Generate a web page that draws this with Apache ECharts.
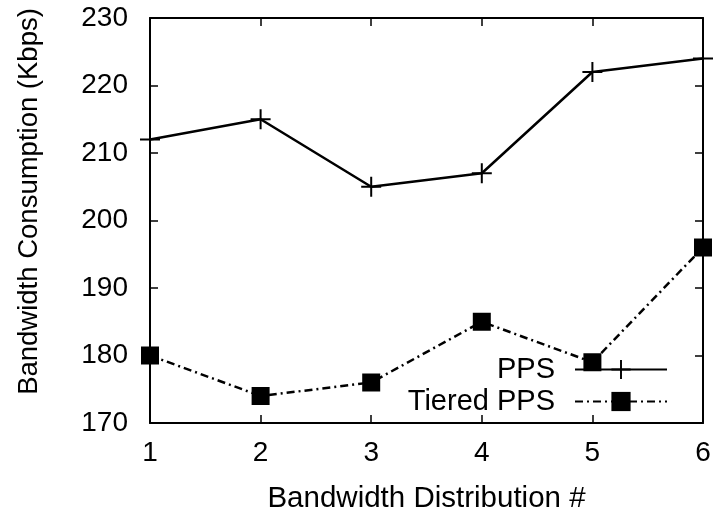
<!DOCTYPE html>
<html>
<head>
<meta charset="utf-8">
<script src="https://cdn.jsdelivr.net/npm/echarts@6/dist/echarts.min.js"></script>
<style>
  html, body { margin: 0; padding: 0; background: #fff; }
  #chart { width: 719px; height: 518px; }
</style>
</head>
<body>
<div id="chart"></div>
<script>
  // values
  const distributions = [1, 2, 3, 4, 5, 6];
  const ppsValues = [212, 215, 205, 207, 222, 224];
  const tieredValues = [180, 174, 176, 185, 179, 196];

  const font = 'Liberation Sans, Arial, Helvetica, sans-serif';
  const plus = 'path://M0,45 L45,45 L45,0 L55,0 L55,45 L100,45 L100,55 L55,55 L55,100 L45,100 L45,55 L0,55 Z';

  const pair = (xs, ys) => xs.map((x, i) => [x, ys[i]]);

  const chart = echarts.init(document.getElementById('chart'));

  const baseAxis = {
    type: 'value',
    axisLine: { show: true, lineStyle: { color: '#000', width: 2 } },
    axisTick: { show: true, inside: true, length: 8, lineStyle: { color: '#000', width: 1.5 } },
    splitLine: { show: false },
    axisLabel: { color: '#000', fontSize: 28, fontFamily: font }
  };

  chart.setOption({
    animation: false,
    grid: { left: 150, right: 16, top: 18, bottom: 95, outerBoundsMode: 'none', containLabel: false },
    legend: {
      orient: 'vertical',
      right: 46,
      bottom: 97,
      align: 'right',
      itemWidth: 92,
      itemHeight: 24,
      itemGap: 3,
      textStyle: { fontSize: 29, lineHeight: 29, fontFamily: font, color: '#000', padding: [0, 15, 0, 0] },
      data: ['PPS', 'Tiered PPS']
    },
    xAxis: [
      Object.assign({}, baseAxis, {
        min: 1, max: 6, interval: 1,
        name: 'Bandwidth Distribution #',
        nameLocation: 'middle',
        nameGap: 61,
        nameTextStyle: { fontSize: 29.5, fontFamily: font, color: '#000' },
        axisLabel: Object.assign({}, baseAxis.axisLabel, { margin: 16 })
      }),
      Object.assign({}, baseAxis, {
        position: 'top', min: 1, max: 6, interval: 1,
        axisLabel: { show: false }
      })
    ],
    yAxis: [
      Object.assign({}, baseAxis, {
        min: 170, max: 230, interval: 10,
        name: 'Bandwidth Consumption (Kbps)',
        nameLocation: 'middle',
        nameGap: 107,
        nameTextStyle: { fontSize: 27.5, fontFamily: font, color: '#000', padding: [0, 0, 0, 38] },
        axisLabel: Object.assign({}, baseAxis.axisLabel, { margin: 22 })
      }),
      Object.assign({}, baseAxis, {
        position: 'right', min: 170, max: 230, interval: 10,
        axisLabel: { show: false }
      })
    ],
    series: [
      {
        name: 'PPS',
        type: 'line',
        data: pair(distributions, ppsValues),
        symbol: plus,
        symbolSize: 20,
        lineStyle: { color: '#000', width: 2.5, type: 'solid' },
        itemStyle: { color: '#000' }
      },
      {
        name: 'Tiered PPS',
        type: 'line',
        data: pair(distributions, tieredValues),
        symbol: 'rect',
        symbolSize: 18,
        lineStyle: { color: '#000', width: 2.5, type: [8, 4, 2, 4] },
        itemStyle: { color: '#000' }
      }
    ]
  });
</script>
</body>
</html>
